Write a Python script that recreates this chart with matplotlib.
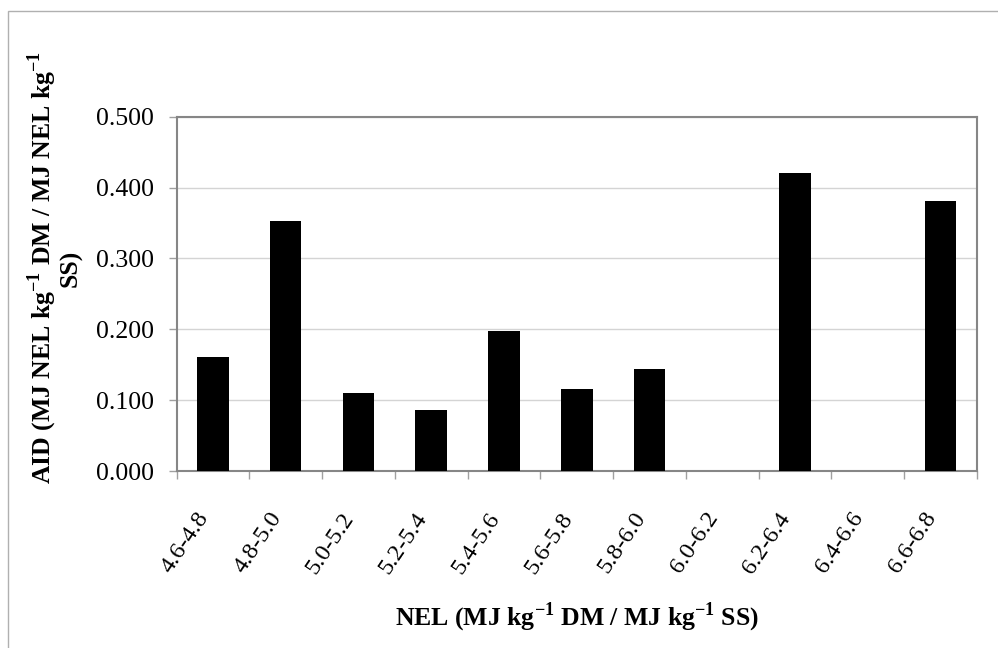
import matplotlib
matplotlib.use("Agg")
import matplotlib.pyplot as plt
from matplotlib.patches import Rectangle
import numpy as np

categories = ["4.6-4.8", "4.8-5.0", "5.0-5.2", "5.2-5.4", "5.4-5.6", "5.6-5.8",
              "5.8-6.0", "6.0-6.2", "6.2-6.4", "6.4-6.6", "6.6-6.8"]
aid_values = [0.161, 0.353, 0.110, 0.086, 0.198, 0.116, 0.144, 0.0, 0.421, 0.0, 0.381]
y_ticks = [0.0, 0.1, 0.2, 0.3, 0.4, 0.5]
y_tick_labels = ["0.000", "0.100", "0.200", "0.300", "0.400", "0.500"]

plt.rcParams['font.family'] = ['Liberation Serif', 'DejaVu Serif']
plt.rcParams['mathtext.fontset'] = 'custom'
plt.rcParams['mathtext.rm'] = 'Liberation Serif'
plt.rcParams['mathtext.bf'] = 'Liberation Serif:bold'

FS = 18.5
W, H = 998, 648
fig = plt.figure(figsize=(W / 100, H / 100), dpi=100)

# outer chart border
fig.patches.append(Rectangle((8 / W, -0.01), 1.02, 1 - 11 / H + 0.01, transform=fig.transFigure,
                             fill=False, edgecolor='#b0b0b0', linewidth=1.0))

ax = fig.add_axes([176.5 / W, 1 - 471 / H, (977 - 176.5) / W, (471 - 116.7) / H])

x = np.arange(len(categories))
ax.bar(x, aid_values, width=0.434, color='black', zorder=3)

ax.set_xlim(-0.5, len(categories) - 0.5)
ax.set_ylim(0, 0.5)
ax.set_yticks(y_ticks)
ax.set_yticklabels(y_tick_labels, fontsize=FS)
ax.yaxis.grid(True, color='#d4d4d4', linewidth=1.0, zorder=0)
ax.set_axisbelow(True)

# category boundary ticks
ax.set_xticks(np.arange(-0.5, len(categories), 1.0))
ax.set_xticklabels([])
ax.set_xticks(x, minor=True)
ax.set_xticklabels(categories, minor=True, rotation=56, ha='right', va='top',
                   fontsize=17.5)
ax.tick_params(axis='x', which='minor', length=0, pad=27)
ax.tick_params(axis='x', which='major', length=6, width=1.0, color='#a0a0a0', direction='out')
ax.tick_params(axis='y', length=6, width=1.0, color='#a0a0a0', direction='out', pad=10)

for s in ax.spines.values():
    s.set_color('#868686')
    s.set_linewidth(1.5)

fig.text(577 / W, 1 - 625 / H,
         r"NEL (MJ kg$^{\mathbf{-1}}$ DM / MJ kg$^{\mathbf{-1}}$ SS)",
         ha='center', va='baseline', fontsize=FS, fontweight='bold')
fig.text(54 / W, 1 - 268 / H,
         "AID (MJ NEL kg$^{\\mathbf{-1}}$ DM / MJ NEL kg$^{\\mathbf{-1}}$\nSS)",
         ha='center', va='center', rotation=90, fontsize=FS, fontweight='bold',
         multialignment='center', linespacing=1.0)

fig.savefig("out.png", dpi=100)
